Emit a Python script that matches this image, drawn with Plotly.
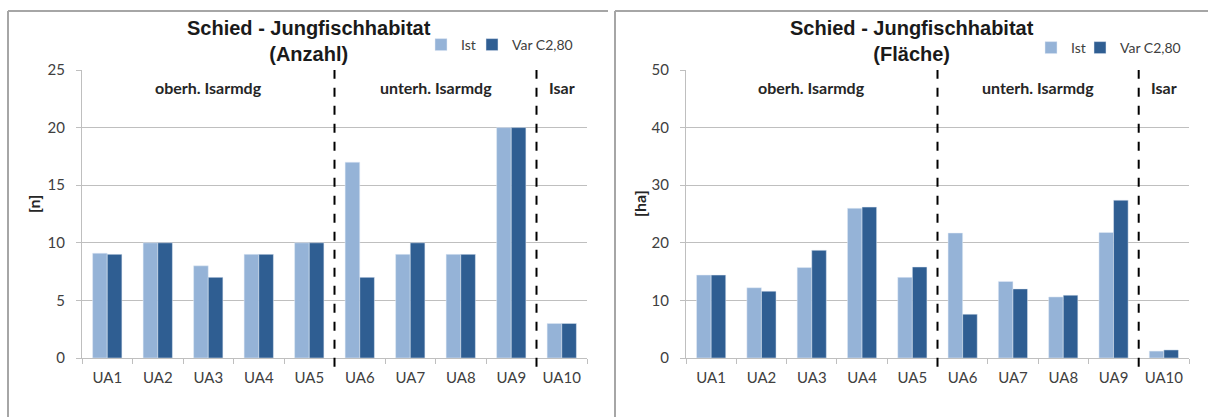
import plotly.graph_objects as go

categories = ["UA1", "UA2", "UA3", "UA4", "UA5", "UA6", "UA7", "UA8", "UA9", "UA10"]

# Anzahl [n]
anzahl_ist = [9.1, 10, 8, 9, 10, 17, 9, 9, 20, 3]
anzahl_var = [9, 10, 7, 9, 10, 7, 10, 9, 20, 3]

# Fläche [ha]
flaeche_ist = [14.4, 12.2, 15.7, 26.0, 14.0, 21.7, 13.3, 10.6, 21.8, 1.2]
flaeche_var = [14.4, 11.6, 18.7, 26.2, 15.8, 7.6, 12.0, 10.9, 27.4, 1.4]

series_names = ["Ist", "Var C2,80"]
sections = ["oberh. Isarmdg", "unterh. Isarmdg", "Isar"]

W, H = 1208, 417
LIGHT = "#95B3D7"
DARK = "#2F5E92"
GRID = "#BFBFBF"
TXT = "#404040"


def px_x(v):
    return v / W


def px_y(v):
    return (H - v) / H


fig = go.Figure()

# one legend per entry so each key can sit where the original has it
fig.add_trace(go.Bar(x=categories, y=anzahl_ist, name=series_names[0], marker_color=LIGHT,
                     xaxis="x", yaxis="y", legend="legend", showlegend=True))
fig.add_trace(go.Bar(x=categories, y=anzahl_var, name=series_names[1], marker_color=DARK,
                     xaxis="x", yaxis="y", legend="legend2", showlegend=True))
fig.add_trace(go.Bar(x=categories, y=flaeche_ist, name=series_names[0], marker_color=LIGHT,
                     xaxis="x2", yaxis="y2", legend="legend3", showlegend=True))
fig.add_trace(go.Bar(x=categories, y=flaeche_var, name=series_names[1], marker_color=DARK,
                     xaxis="x2", yaxis="y2", legend="legend4", showlegend=True))

ydom = [px_y(358), px_y(70)]
xcommon = dict(type="category", showgrid=False, showline=True, linecolor=GRID, linewidth=1,
               ticks="outside", tickson="boundaries", ticklen=5, tickcolor=GRID,
               ticklabelstandoff=6, automargin=False,
               tickfont=dict(family="Lato", size=15, color=TXT), fixedrange=True)
ycommon = dict(showgrid=True, gridcolor=GRID, gridwidth=1, showline=True, linecolor=GRID,
               ticks="outside", ticklen=5, tickcolor=GRID, zeroline=False,
               ticklabelstandoff=8, automargin=False, fixedrange=True,
               tickfont=dict(family="Lato", size=15, color=TXT), domain=ydom)
legcommon = dict(orientation="h", xanchor="left", yanchor="middle", itemwidth=30,
                 font=dict(family="Lato", size=14, color=TXT), bgcolor="rgba(0,0,0,0)")

fig.update_layout(
    width=W, height=H,
    showlegend=True,
    margin=dict(l=0, r=0, t=0, b=0, autoexpand=False),
    paper_bgcolor="white", plot_bgcolor="white",
    barmode="group", bargap=0.42, bargroupgap=0,
    xaxis=dict(domain=[px_x(82), px_x(587)], anchor="y", **xcommon),
    yaxis=dict(range=[0, 25], dtick=5, anchor="x", **ycommon),
    xaxis2=dict(domain=[px_x(686), px_x(1189)], anchor="y2", **xcommon),
    yaxis2=dict(range=[0, 50], dtick=10, anchor="x2", **ycommon),
    legend=dict(x=px_x(421), y=px_y(45), **legcommon),
    legend2=dict(x=px_x(472), y=px_y(45), **legcommon),
    legend3=dict(x=px_x(1031), y=px_y(48), **legcommon),
    legend4=dict(x=px_x(1080), y=px_y(48), **legcommon),
)

# frames around each chart
frame = dict(type="line", xref="paper", yref="paper", line=dict(color="#A6A6A6", width=2))
fig.add_shape(x0=px_x(8), x1=px_x(608), y0=px_y(11), y1=px_y(11), **frame)
fig.add_shape(x0=px_x(8), x1=px_x(8), y0=px_y(11), y1=0, **frame)
fig.add_shape(x0=px_x(615), x1=1, y0=px_y(11), y1=px_y(11), **frame)
fig.add_shape(x0=px_x(615), x1=px_x(615), y0=px_y(11), y1=0, **frame)

# section dividers and labels
for xa, ya in (("x", "y"), ("x2", "y2")):
    for xpos in (4.5, 8.5):
        fig.add_shape(type="line", xref=xa, yref=ya + " domain", x0=xpos, x1=xpos,
                      y0=-0.03, y1=1, line=dict(color="black", width=2, dash="dash"))
    for xpos, label in zip((2, 6.5, 9), sections):
        fig.add_annotation(xref=xa, yref=ya + " domain", x=xpos, y=0.94, text="<b>%s</b>" % label,
                           showarrow=False, xanchor="center", yanchor="middle",
                           font=dict(family="Lato", size=16, color="#262626"))

titles = [("Schied - Jungfischhabitat<br>(Anzahl)", 309), ("Schied - Jungfischhabitat<br>(Fläche)", 912)]
for text, xc in titles:
    fig.add_annotation(xref="paper", yref="paper", x=px_x(xc), y=px_y(41), text="<b>%s</b>" % text,
                       showarrow=False, xanchor="center", yanchor="middle",
                       font=dict(family="Liberation Sans", size=20, color="#1a1a1a"))

for text, xc in (("[n]", 34), ("[ha]", 640)):
    fig.add_annotation(xref="paper", yref="paper", x=px_x(xc), y=px_y(204), text="<b>%s</b>" % text,
                       showarrow=False, textangle=-90, xanchor="center", yanchor="middle",
                       font=dict(family="Lato", size=16, color="#262626"))

fig.write_html("out.html", post_script="document.body.style.margin='0';",
               config={"displayModeBar": False})
